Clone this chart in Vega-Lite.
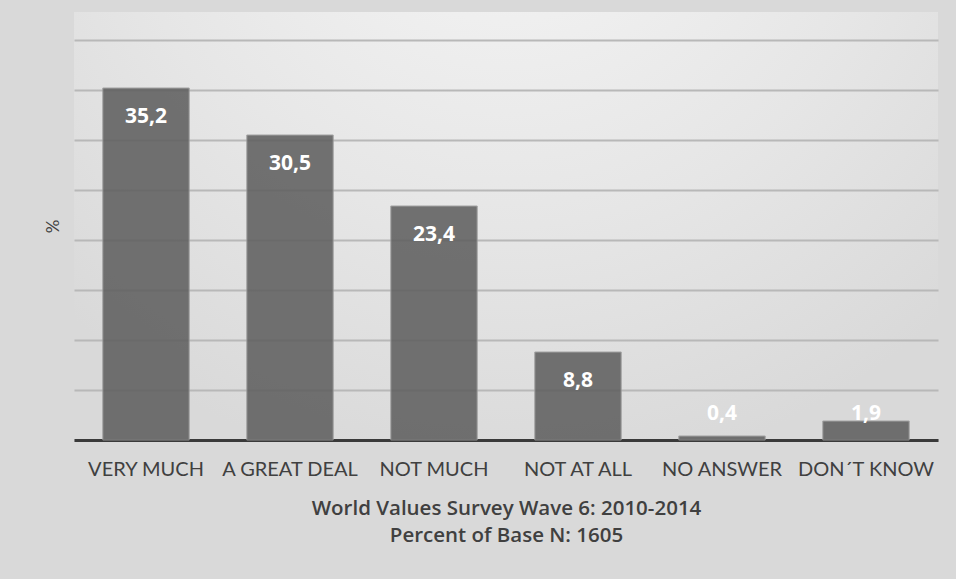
{
  "$schema": "https://vega.github.io/schema/vega-lite/v6.json",
  "autosize": {"type": "none"},
  "width": 864,
  "height": 428,
  "padding": {"left": 74, "top": 12, "right": 18, "bottom": 139},
  "background": "#d9d9d9",
  "config": {
    "locale": {"number": {"decimal": ",", "thousands": ".", "grouping": [3], "currency": ["", " €"]}},
    "view": {"stroke": null, "fill": {"gradient": "radial", "x1": 0.5, "y1": 0.05, "r1": 0, "x2": 0.5, "y2": 0.05, "r2": 0.75, "stops": [{"offset": 0, "color": "#f7f7f7"}, {"offset": 0.6, "color": "#e6e6e6"}, {"offset": 1, "color": "#d9d9d9"}]}},
    "font": "Lato"
  },
  "data": {"values": [
    {"category": "VERY MUCH", "v": 35.2},
    {"category": "A GREAT DEAL", "v": 30.5},
    {"category": "NOT MUCH", "v": 23.4},
    {"category": "NOT AT ALL", "v": 8.8},
    {"category": "NO ANSWER", "v": 0.4},
    {"category": "DON´T KNOW", "v": 1.9}
  ]},
  "encoding": {
    "x": {
      "field": "category", "type": "nominal", "sort": null,
      "scale": {"paddingInner": 0.4, "paddingOuter": 0.2},
      "axis": {
        "title": ["World Values Survey Wave 6: 2010-2014", "Percent of Base N: 1605"],
        "titleFont": "Open Sans", "titleFontSize": 20.5, "titleFontWeight": 600, "titleColor": "#404040",
        "titleLineHeight": 27, "titlePadding": 19,
        "labelAngle": 0, "labelFontSize": 20, "labelColor": "#404040", "labelPadding": 19,
        "ticks": false, "domainColor": "#3a3a3a", "domainWidth": 3, "grid": false
      }
    }
  },
  "layer": [
    {
      "mark": {"type": "bar", "color": "#606060", "opacity": 0.88, "stroke": "#9a9a9a", "strokeWidth": 1},
      "encoding": {
        "y": {
          "field": "v", "type": "quantitative",
          "scale": {"domain": [0, 42.8], "nice": false, "zero": true},
          "axis": {
            "title": "%", "titleFontSize": 17, "titleColor": "#404040", "titleFontWeight": "normal", "titlePadding": 12,
            "labels": false, "ticks": false, "domain": false,
            "values": [0, 5, 10, 15, 20, 25, 30, 35, 40],
            "grid": true, "gridColor": "#b8b8b8", "gridWidth": 2
          }
        }
      }
    },
    {
      "transform": [{"filter": "datum.v >= 5"}],
      "mark": {"type": "text", "color": "white", "fontSize": 21, "fontWeight": "bold", "font": "Open Sans", "baseline": "middle", "dy": 29},
      "encoding": {
        "y": {"field": "v", "type": "quantitative"},
        "text": {"field": "v", "type": "quantitative", "format": ".1f"}
      }
    },
    {
      "transform": [{"filter": "datum.v < 5"}],
      "mark": {"type": "text", "color": "white", "fontSize": 21, "fontWeight": "bold", "font": "Open Sans", "baseline": "middle"},
      "encoding": {
        "y": {"datum": 2.6, "type": "quantitative"},
        "text": {"field": "v", "type": "quantitative", "format": ".1f"}
      }
    }
  ]
}
